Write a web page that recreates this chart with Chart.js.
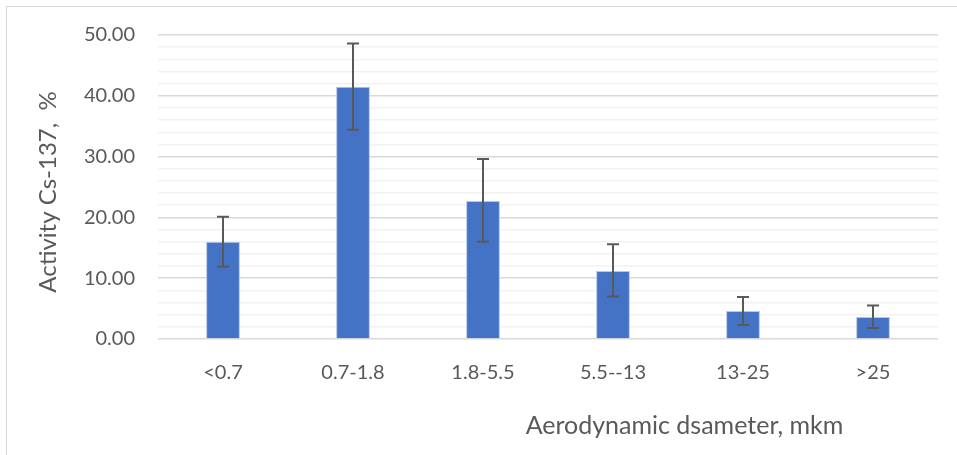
<!DOCTYPE html>
<html>
<head>
<meta charset="utf-8">
<script src="https://cdn.jsdelivr.net/npm/chart.js@4"></script>
<style>
html,body{margin:0;padding:0;background:#fff;}
#wrap{position:relative;width:957px;height:455px;overflow:hidden;}
#frame{position:absolute;left:6px;top:6px;width:1000px;height:1000px;border:1.5px solid #d9d9d9;box-sizing:border-box;}
canvas{position:absolute;left:0;top:0;}
</style>
</head>
<body>
<div id="wrap"><div id="frame"></div><canvas id="c" width="957" height="455"></canvas></div>
<script>
const categories = ['<0.7', '0.7-1.8', '1.8-5.5', '5.5--13', '13-25', '>25'];
const activity = [16.0, 41.5, 22.7, 11.2, 4.6, 3.6];
const errPlus = [4.1, 7.1, 6.9, 4.4, 2.3, 1.9];
const errMinus = [4.1, 7.1, 6.7, 4.2, 2.3, 1.8];
const yTicks = [0, 10, 20, 30, 40, 50];
const yTitle = 'Activity Cs-137,  %';
const xTitle = 'Aerodynamic dsameter, mkm';

const FONT = 'Lato';
const TXT = '#595959';

const errorBars = {
  id: 'errorBars',
  afterDatasetsDraw(chart) {
    const ctx = chart.ctx;
    const meta = chart.getDatasetMeta(0);
    const ys = chart.scales.y;
    ctx.save();
    ctx.strokeStyle = '#595959';
    ctx.lineWidth = 2;
    meta.data.forEach((bar, i) => {
      const x = bar.x;
      const top = ys.getPixelForValue(activity[i] + errPlus[i]);
      const bot = ys.getPixelForValue(activity[i] - errMinus[i]);
      ctx.beginPath();
      ctx.moveTo(x, top); ctx.lineTo(x, bot);
      ctx.moveTo(x - 6, top); ctx.lineTo(x + 6, top);
      ctx.moveTo(x - 6, bot); ctx.lineTo(x + 6, bot);
      ctx.stroke();
    });
    ctx.restore();
  }
};

const titles = {
  id: 'titles',
  afterDraw(chart) {
    const ctx = chart.ctx;
    const a = chart.chartArea;
    ctx.save();
    ctx.fillStyle = TXT;
    ctx.textAlign = 'center';
    ctx.textBaseline = 'middle';
    ctx.font = '25px "' + FONT + '"';
    ctx.fillText(xTitle, a.left + (a.right - a.left) * 0.675, a.bottom + 87);
    ctx.font = '24px "' + FONT + '"';
    ctx.translate(a.left - 110, (a.top + a.bottom) / 2 + 5);
    ctx.rotate(-Math.PI / 2);
    ctx.fillText(yTitle, 0, 0);
    ctx.restore();
  }
};

new Chart(document.getElementById('c'), {
  type: 'bar',
  data: {
    labels: categories,
    datasets: [{
      data: activity,
      backgroundColor: '#4472C4',
      borderColor: '#b4c7e7',
      borderWidth: 1,
      barPercentage: 0.26,
      categoryPercentage: 1.0
    }]
  },
  options: {
    responsive: false,
    animation: false,
    devicePixelRatio: 1,
    layout: { padding: { left: 0, right: 19, top: 35, bottom: 0 } },
    plugins: { legend: { display: false }, tooltip: { enabled: false } },
    scales: {
      x: {
        grid: { display: false },
        border: { display: false },
        ticks: { color: TXT, font: { family: FONT, size: 20 }, padding: 14 },
        afterFit(s) { s.height = 116; }
      },
      y: {
        min: 0, max: 50,
        afterBuildTicks(s) {
          const t = [];
          for (let v = 0; v <= 50; v += 2) t.push({ value: v });
          s.ticks = t;
        },
        afterFit(s) { s.width = 158; },
        border: { display: false },
        grid: {
          color: c => (yTicks.includes(c.tick.value) ? '#d9d9d9' : '#f2f2f2'),
          lineWidth: 1.5,
          drawTicks: false
        },
        ticks: {
          color: TXT,
          font: { family: FONT, size: 20 },
          padding: 23,
          autoSkip: false,
          callback: v => (yTicks.includes(v) ? v.toFixed(2) : '')
        }
      }
    }
  },
  plugins: [errorBars, titles]
});
</script>
</body>
</html>
